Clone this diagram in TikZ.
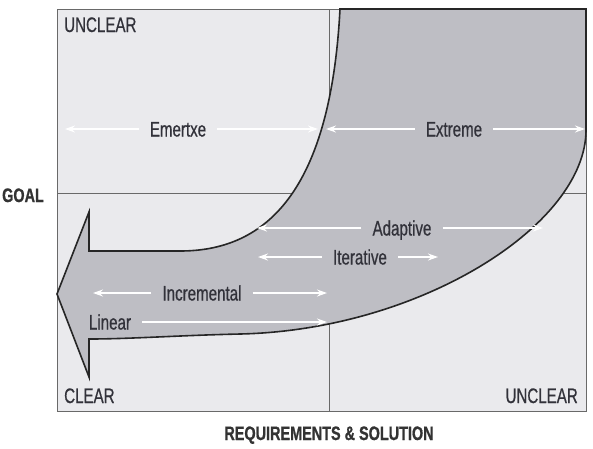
\documentclass[tikz,border=0pt]{standalone}
\usepackage{fontspec}
\usepackage{xcolor}
\usepackage{tikz}
\usetikzlibrary{arrows.meta}
\newfontfamily\narrowsans[FakeStretch=0.72,FakeBold=0.6]{Liberation Sans}
\newfontfamily\axissans[FakeStretch=0.74,FakeBold=0.8]{Liberation Sans}
\definecolor{quadfill}{RGB}{234,234,237}
\definecolor{bandfill}{RGB}{190,190,196}
\definecolor{quadline}{RGB}{105,105,105}
\definecolor{labelgray}{RGB}{50,50,58}

\begin{document}
\begin{tikzpicture}[x=1pt,y=-1pt,
    quad/.style={draw=quadline, fill=quadfill, line width=1pt},
    divider/.style={draw=quadline, line width=0.8pt},
    band/.style={draw=black!85, fill=bandfill, line width=1.6pt, line join=miter},
    corner/.style={text=labelgray, font=\narrowsans\fontsize{21}{21}\selectfont, inner sep=0pt, anchor=base west},
    axis/.style={text=black!80, font=\axissans\bfseries\fontsize{19.5}{19.5}\selectfont, inner sep=0pt, anchor=base},
    stage/.style={text=labelgray, font=\narrowsans\fontsize{21}{21}\selectfont, inner xsep=11pt, inner ysep=0pt, text height=15pt, text depth=0pt},
    sidearrow/.style={draw=white, line width=1.5pt, -{Stealth[length=10pt,width=7pt]}}]
            \path[use as bounding box, fill=white] (0,0) rectangle (593,448);
            \draw[quad] (57,9) rectangle (586,411);
            \draw[divider] (329,9) -- (329,411);
            \draw[divider] (57,193) -- (586,193);

            \draw[band] (340,9) -- (586,9) -- (586,130)
                .. controls (586,225) and (420,330) .. (240,334)
                .. controls (180,335.3) and (130,339) .. (89,339)
                -- (89,377) -- (57,294) -- (89,212) -- (89,251) -- (180,251)
                .. controls (260,251) and (330,200) .. (340,9) -- cycle;

            \node[corner] (ulclear) at (64,32) {UNCLEAR};
            \node[corner] (llclear) at (64,403) {CLEAR};
            \node[corner, anchor=base east] (lrclear) at (578,403) {UNCLEAR};
            \node[axis] (goal) at (23,202) {GOAL};
            \node[axis] (reqsol) at (329,440) {REQUIREMENTS \& SOLUTION};

            \node[stage] (emertxe) at (178,129) {Emertxe};
            \coordinate (emertxeL) at (65,129);
            \coordinate (emertxeR) at (318,129);
            \draw[sidearrow] (emertxe) -- (emertxeL);
            \draw[sidearrow] (emertxe) -- (emertxeR);

            \node[stage] (extreme) at (454,129) {Extreme};
            \coordinate (extremeL) at (326,129);
            \coordinate (extremeR) at (585,129);
            \draw[sidearrow] (extreme) -- (extremeL);
            \draw[sidearrow] (extreme) -- (extremeR);

            \node[stage] (adaptive) at (402,228) {Adaptive};
            \coordinate (adaptiveL) at (257,228);
            \coordinate (adaptiveR) at (543,228);
            \draw[sidearrow] (adaptive) -- (adaptiveL);
            \draw[sidearrow] (adaptive) -- (adaptiveR);

            \node[stage] (iterative) at (360,257) {Iterative};
            \coordinate (iterativeL) at (258,257);
            \coordinate (iterativeR) at (438,257);
            \draw[sidearrow] (iterative) -- (iterativeL);
            \draw[sidearrow] (iterative) -- (iterativeR);

            \node[stage] (incremental) at (202,293) {Incremental};
            \coordinate (incrementalL) at (93,293);
            \coordinate (incrementalR) at (327,293);
            \draw[sidearrow] (incremental) -- (incrementalL);
            \draw[sidearrow] (incremental) -- (incrementalR);

            \node[stage] (linear) at (110,322) {Linear};
            \coordinate (linearR) at (327,322);
            \draw[sidearrow] (linear) -- (linearR);
\end{tikzpicture}
\end{document}
